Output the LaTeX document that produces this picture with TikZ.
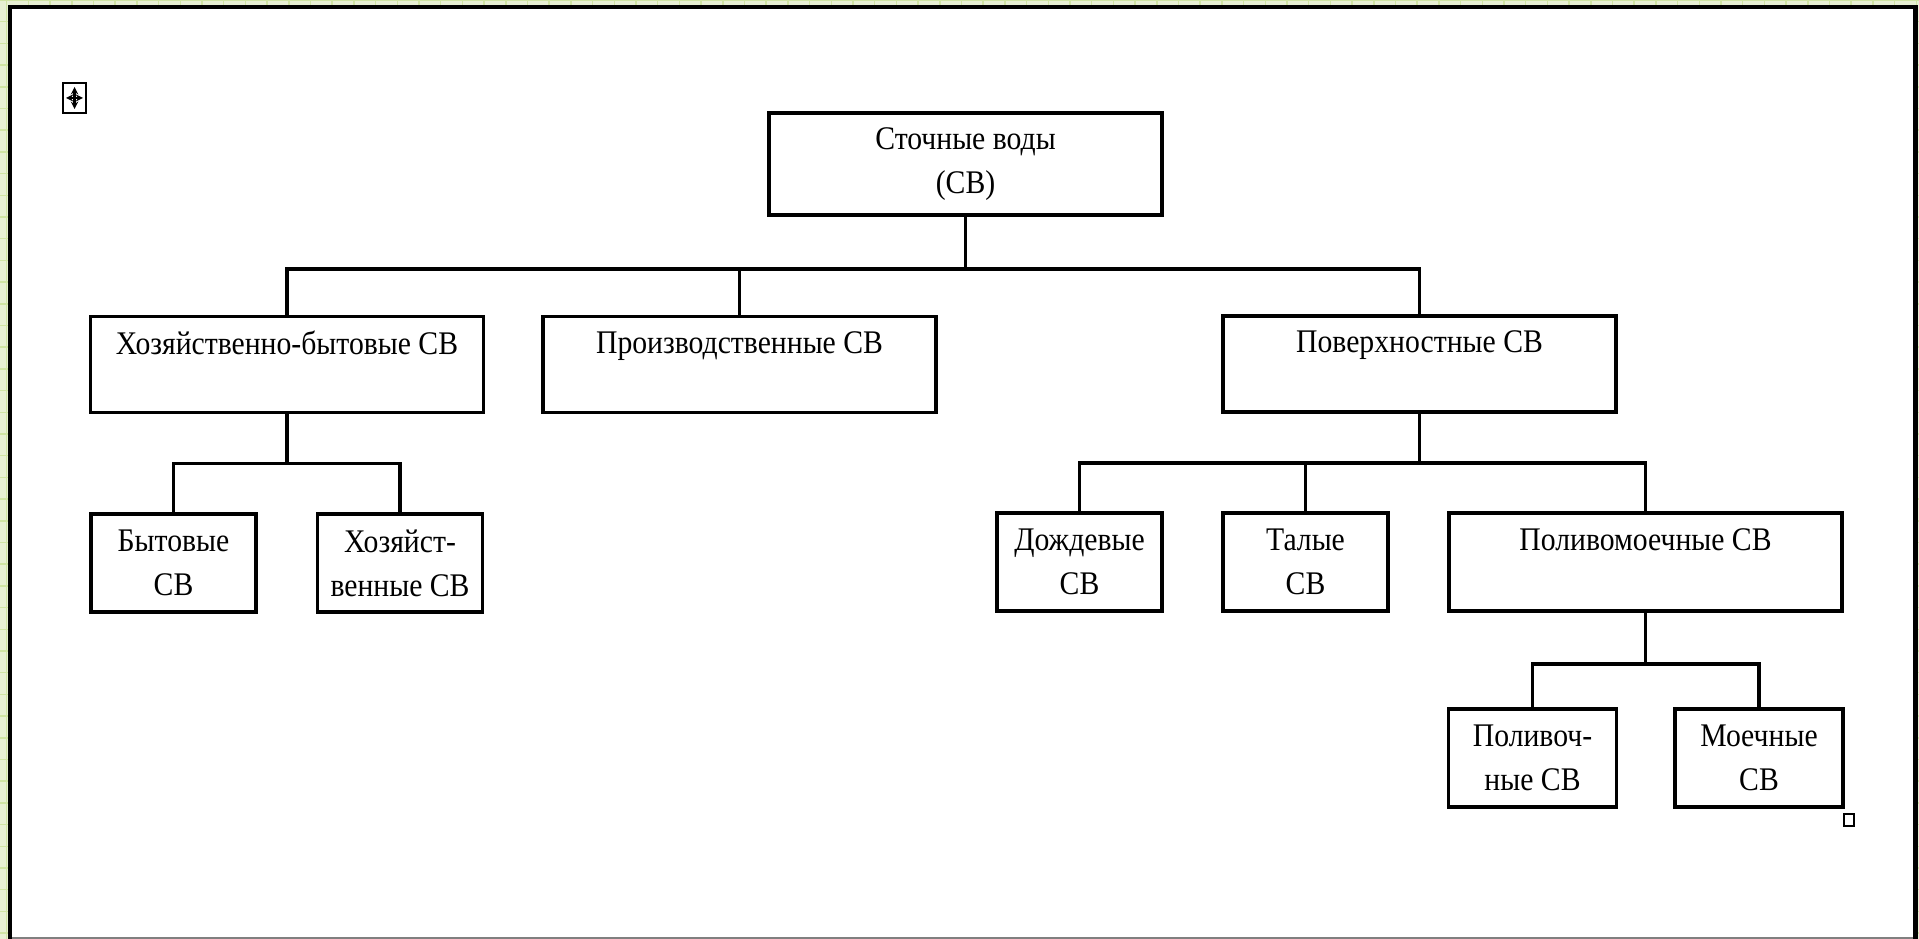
\documentclass[tikz,border=0pt]{standalone}
\usepackage{fontspec}
\setmainfont{Liberation Serif}[FakeStretch=0.9]
\definecolor{slidegreen}{HTML}{E8F0D4}
\definecolor{gridgreen}{HTML}{D0E4A4}

\begin{document}
\begin{tikzpicture}[
      x = 1pt, y = 1pt,
      font = \fontsize{33}{44}\selectfont,
      box/.style = {
        rectangle,
        draw = black, line width = 3.5pt,
        fill = white,
        align = center,
        inner sep = 0pt,
        minimum width = 165pt,
        minimum height = 98pt,
      },
      wide/.style = {
        box,
        minimum width = 393pt,
      },
      link/.style = {
        draw = black, line width = 3.5pt,
      },
      handle/.style = {
        draw = black, line width = 1.5pt,
      }
    ]
    \useasboundingbox (0,0) rectangle (1919,-939);
    \fill[slidegreen] (0,0) rectangle (1919,-939);
    \draw[gridgreen, line width = 1.5pt, step = 21.7pt, shift = {(6.7,0)}] (-10,0) grid (1919,-939);
    \draw[line width = 4.5pt, fill = white] (10,-7) rectangle (1915.5,-960);
    \draw[gray, line width = 2pt] (12,-938) -- (1913,-938);

    \node[wide, minimum height = 102pt] (sv) at (965.5,-164) {Сточные воды\\(СВ)};

    \node[wide, minimum height = 96pt] (hb) at (287,-364.5) {Хозяйственно-бытовые СВ\\ \mbox{}};
    \node[wide, minimum height = 96pt] (pr) at (739.5,-364.5) {Производственные СВ\\ \mbox{}};
    \node[wide, minimum height = 96pt] (pov) at (1419.5,-364) {Поверхностные СВ\\ \mbox{}};

    \node[box] (byt) at (173.5,-563) {Бытовые\\СВ};
    \node[box] (hoz) at (400,-563) {Хозяйст-\\венные СВ};
    \node[box] (dozh) at (1079.5,-562) {Дождевые\\СВ};
    \node[box] (tal) at (1305.5,-562) {Талые\\СВ};
    \node[wide] (pm) at (1645.5,-562) {Поливомоечные СВ\\ \mbox{}};

    \node[box, minimum width = 168pt] (pol) at (1532.5,-758) {Поливоч-\\ные СВ};
    \node[box, minimum width = 168pt] (moe) at (1759,-758) {Моечные\\СВ};

    \foreach \c in {hb, pr, pov}
      \draw[link] (sv.south) -- ++(0,-52) -| (\c.north);
    \foreach \c in {byt, hoz}
      \draw[link] (hb.south) -- ++(0,-49) -| (\c.north);
    \foreach \c in {dozh, tal, pm}
      \draw[link] (pov.south) -- ++(0,-49) -| (\c.north);
    \foreach \c in {pol, moe}
      \draw[link] (pm.south) -- ++(0,-51) -| (\c.north);

    \draw[handle] (63,-83) rectangle (86,-113);
    \draw[handle, line width = 2.2pt, <->, >=stealth] (74.5,-87) -- (74.5,-109);
    \draw[handle, line width = 2.2pt, <->, >=stealth] (66,-98) -- (83,-98);
    \draw[handle] (1844,-814) rectangle (1854,-826);
  \end{tikzpicture}
\end{document}
